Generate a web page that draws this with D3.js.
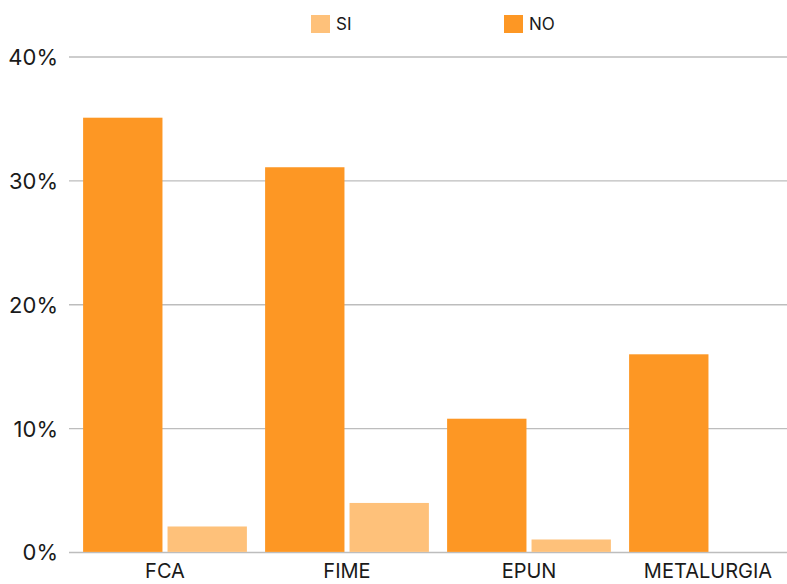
<!DOCTYPE html>
<html>
<head>
<meta charset="utf-8">
<script src="https://cdn.jsdelivr.net/npm/d3@7"></script>
<style>
  body { margin: 0; background: #fff; }
  text { font-family: Inter, "Liberation Sans", sans-serif; fill: #1a1a1a; }
</style>
</head>
<body>
<div id="chart"></div>
<script>
// data
var categories = ["FCA", "FIME", "EPUN", "METALURGIA"];
var seriesNames = ["NO", "SI"];
var noValues = [35.1, 31.1, 10.8, 16.0];
var siValues = [2.1, 4.0, 1.05, 0];
var yTicks = [0, 10, 20, 30, 40];
var legendOrder = ["SI", "NO"];

var width = 787, height = 584;
var colours = { "NO": "#fd9724", "SI": "#fec17a" };

var svg = d3.select("#chart").append("svg")
    .attr("width", width)
    .attr("height", height);

var x0 = d3.scaleBand()
    .domain(categories)
    .range([74, 802])
    .paddingInner(0.1)
    .paddingOuter(0.05);

var x1 = d3.scaleBand()
    .domain(seriesNames)
    .range([0, x0.bandwidth()])
    .paddingInner(0.06);

var y = d3.scaleLinear()
    .domain([0, 40])
    .range([552.5, 57]);

// gridlines
svg.selectAll("line.grid")
    .data(yTicks).enter()
    .append("line")
    .attr("class", "grid")
    .attr("x1", 69)
    .attr("x2", width)
    .attr("y1", (d) => y(d))
    .attr("y2", (d) => y(d))
    .style("stroke", "#bdbdbd")
    .style("stroke-width", 1.3);

// y labels
svg.selectAll("text.ylab")
    .data(yTicks).enter()
    .append("text")
    .attr("class", "ylab")
    .attr("x", 58)
    .attr("y", (d) => y(d))
    .attr("dy", "0.36em")
    .attr("text-anchor", "end")
    .style("font-size", "22px")
    .text((d) => d + "%");

// bars
var rows = categories.map((c, i) => ({ cat: c, NO: noValues[i], SI: siValues[i] }));
var groups = svg.selectAll("g.group")
    .data(rows).enter()
    .append("g")
    .attr("class", "group")
    .attr("transform", (d) => "translate(" + x0(d.cat) + ",0)");

groups.selectAll("rect")
    .data((d) => seriesNames.map((s) => ({ key: s, value: d[s] })))
    .enter()
    .append("rect")
    .attr("x", (d) => x1(d.key))
    .attr("width", x1.bandwidth())
    .attr("y", (d) => y(d.value))
    .attr("height", (d) => y(0) - y(d.value) - 0.6)
    .style("fill", (d) => colours[d.key]);

// x labels
svg.selectAll("text.xlab")
    .data(categories).enter()
    .append("text")
    .attr("class", "xlab")
    .attr("x", (d, i) => i == 3 ? 708 : x0(d) + x0.bandwidth() / 2)
    .attr("y", 578)
    .attr("text-anchor", "middle")
    .style("font-size", "20px")
    .text((d) => d);

// legend
var legendX = [311, 504];
var legend = svg.selectAll("g.legend")
    .data(legendOrder).enter()
    .append("g")
    .attr("class", "legend")
    .attr("transform", (d, i) => "translate(" + legendX[i] + ",15)");
legend.append("rect")
    .attr("width", 19)
    .attr("height", 18)
    .style("fill", (d) => colours[d]);
legend.append("text")
    .attr("x", 25)
    .attr("y", 9)
    .attr("dy", "0.36em")
    .style("font-size", "17px")
    .text((d) => d);
</script>
</body>
</html>
